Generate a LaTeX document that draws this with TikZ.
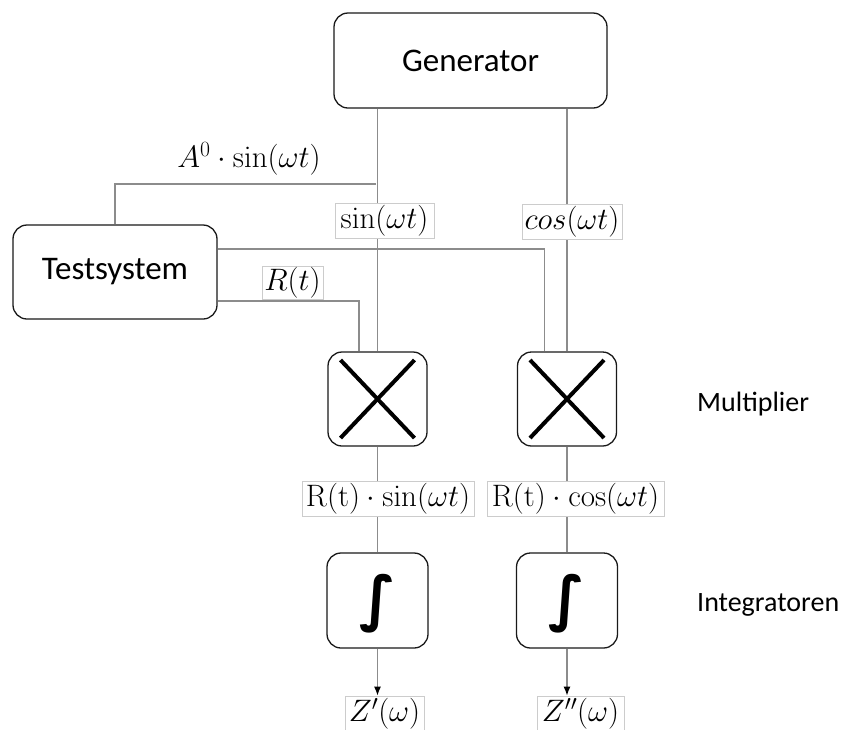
\RequirePackage{fix-cm}
\documentclass[tikz,border=0pt]{standalone}
\usepackage[no-math]{fontspec}
\setmainfont{Carlito}
\newfontfamily\symfont{DejaVu Sans}
\usetikzlibrary{arrows.meta,calc}
\begin{document}
\begin{tikzpicture}[x=1pt,y=-1pt,
  box/.style={draw=black!90, line width=1.3pt, rounded corners=14pt, fill=white, inner sep=0pt},
  wire/.style={draw=black!45, line width=1.2pt},
  tag/.style={fill=white, draw=black!20, line width=0.8pt, inner sep=0pt},
  big/.style={font=\fontsize{33}{40}\selectfont},
  side/.style={font=\fontsize{28}{34}\selectfont, anchor=west, inner sep=0pt},
  mth/.style={font=\fontsize{31}{36}\selectfont},
  cross/.style={line width=4pt, black},
  tip/.style={-{Latex[length=9pt,width=7pt,color=black]}}]
\useasboundingbox (0,0) rectangle (842,729);

% blocks
\node[box,big,minimum width=273pt,minimum height=95pt] (gen) at (470.5,60.5) {Generator};
\node[box,big,minimum width=204pt,minimum height=94pt] (test) at (115,272) {Testsystem};
\node[box,minimum width=99pt,minimum height=94pt] (mA) at (377.5,399) {};
\node[box,minimum width=99pt,minimum height=94pt] (mB) at (567,399) {};
\node[box,minimum width=101pt,minimum height=95pt] (iA) at (377.5,600.5) {};
\node[box,minimum width=101pt,minimum height=95pt] (iB) at (567,600.5) {};

% multiplier crosses
\foreach \m in {mA,mB}{
  \draw[cross] ($(\m.center)+(-37,-39)$) -- ($(\m.center)+(37,39)$);
  \draw[cross] ($(\m.center)+(-37,39)$) -- ($(\m.center)+(37,-39)$);
}
% integral signs
\foreach \m in {iA,iB}{
  \node[inner sep=0pt,font=\symfont\bfseries\fontsize{60}{60}\selectfont] at ($(\m.center)+(0,3)$) {∫};
}

% wires
\coordinate (tap) at (376,184);
\draw[wire] (gen.south -| mA.north) -- (mA.north);
\draw[wire] (gen.south -| mB.north) -- (mB.north);
\draw[wire] (tap) -| (test.north);
\draw[wire] ([yshift=23pt]test.east) -| ([xshift=-22.5pt]mB.north);
\draw[wire] ([yshift=-29pt]test.east) -| ([xshift=-18.5pt]mA.north);
\draw[wire] (mA) -- (iA);
\draw[wire] (mB) -- (iB);

% signal labels
\node[mth] (la) at (249,159) {$A^0\cdot\sin(\omega t)$};
\node[tag,mth,minimum width=99pt,minimum height=35pt] (ls) at (384.5,220.5) {$\sin(\omega t)$};
\node[tag,mth,minimum width=100pt,minimum height=35pt] (lc) at (572,221.5) {$cos(\omega t)$};
\node[tag,mth,minimum width=61pt,minimum height=33pt] (lr) at (292.5,282.5) {$R(t)$};
\node[tag,mth,minimum width=172pt,minimum height=35pt] (lrs) at (388,498.5) {$\mathrm{R(t)}\cdot\sin(\omega t)$};
\node[tag,mth,minimum width=177pt,minimum height=35pt] (lrc) at (575.5,498.5) {$\mathrm{R(t)}\cdot\cos(\omega t)$};
\node[tag,mth,minimum width=79pt,minimum height=35pt] (zA) at (384.5,713.5) {$Z'(\omega)$};
\node[tag,mth,minimum width=87pt,minimum height=35pt] (zB) at (580.5,713.5) {$Z''(\omega)$};

% outputs
\draw[wire,tip] (iA.south) -- (iA.south |- zA.north);
\draw[wire,tip] (iB.south) -- (iB.south |- zB.north);

% stage names
\node[side] (lm) at (697,404) {Multiplier};
\node[side] (li) at (697,605) {Integratoren};
\end{tikzpicture}
\end{document}
